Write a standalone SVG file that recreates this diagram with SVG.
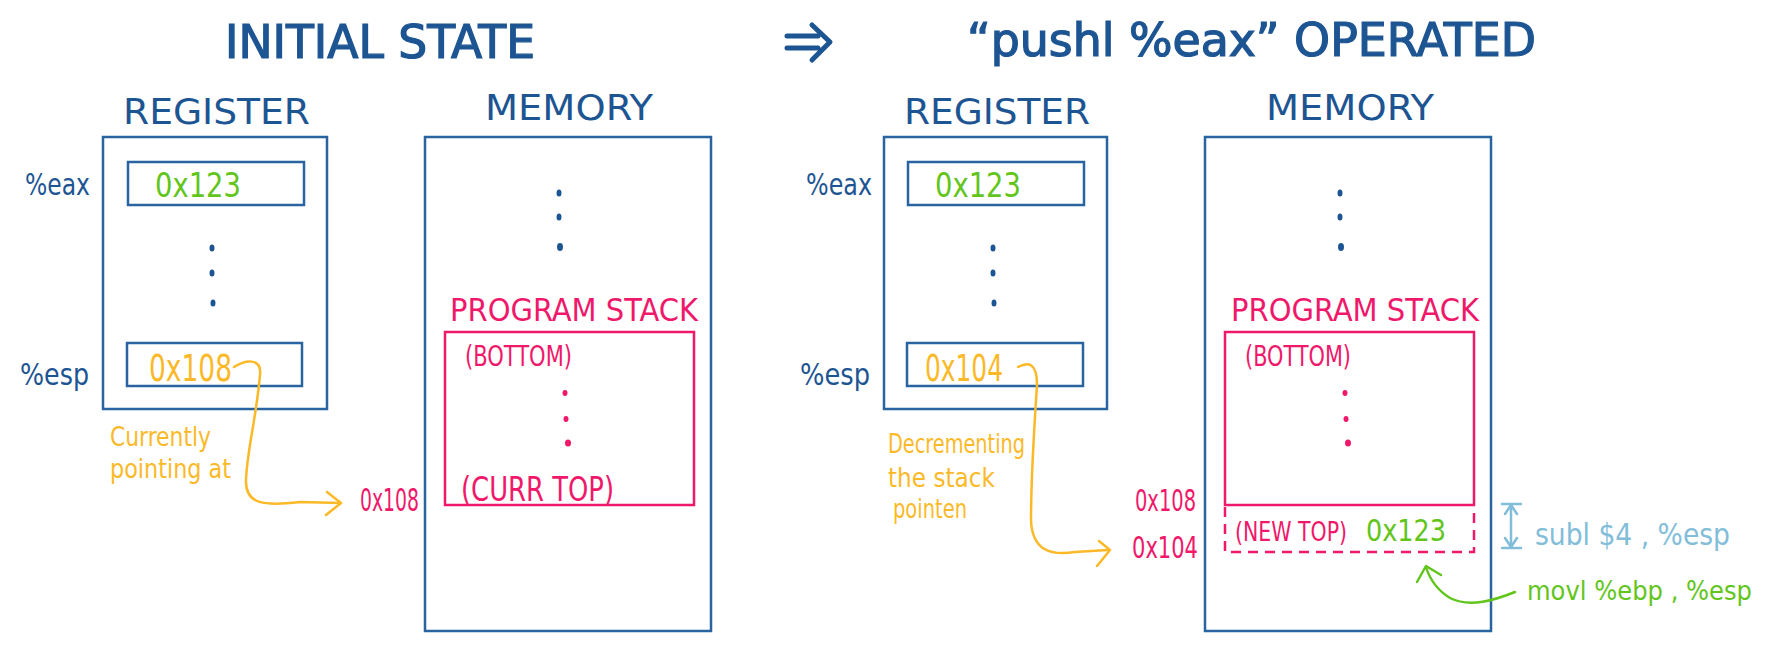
<svg xmlns="http://www.w3.org/2000/svg" width="1766" height="653" viewBox="0 0 1766 653">
<style>
text{font-family:"DejaVu Sans Condensed","Liberation Sans",Arial,sans-serif;}
.t{fill:#1d5593;stroke:#1d5593;stroke-width:1.2;font-size:46px;}
.h{fill:#1d5593;font-size:36px;}
.reg{fill:#1d5593;font-size:30px;}
.g{fill:#62c51c;}
.o{fill:#fbb928;}
.p{fill:#f0186a;}
.lb{fill:#82bdd9;}
.box{fill:none;stroke:#2a64a0;stroke-width:2.5;}
.sbox{fill:none;stroke:#f0186a;stroke-width:2.5;}
.dot{fill:#1d5593;}
.pdot{fill:#f0186a;}
.co{fill:none;stroke:#fbb928;stroke-width:2.5;stroke-linecap:round;stroke-linejoin:round;}
.cg{fill:none;stroke:#62c51c;stroke-width:2.5;stroke-linecap:round;stroke-linejoin:round;}
.cb{fill:none;stroke:#82bdd9;stroke-width:2.5;stroke-linecap:round;stroke-linejoin:round;}
.arr{fill:none;stroke:#1d5593;stroke-width:5;stroke-linecap:round;stroke-linejoin:round;}
</style>

<g id="titles">
<text class="t" x="225" y="58" textLength="310" lengthAdjust="spacingAndGlyphs">INITIAL STATE</text>
<text class="t" x="967" y="56" textLength="569" lengthAdjust="spacingAndGlyphs">“pushl  %eax” OPERATED</text>
</g>
<g id="transition-arrow">
<path class="arr" d="M787 36 H818 M787 48 H818 M812 25 L830 42 L812 60"/>
</g>

<!-- LEFT: INITIAL STATE -->
<g id="left-register">
<text class="h" x="123" y="124" textLength="187" lengthAdjust="spacingAndGlyphs">REGISTER</text>
<rect class="box" x="103" y="137" width="224" height="272"/>
<ellipse class="dot" cx="212" cy="248" rx="2.5" ry="3.5"/>
<ellipse class="dot" cx="212" cy="273" rx="2.5" ry="3.5"/>
<ellipse class="dot" cx="213" cy="303" rx="2.5" ry="3.5"/>
</g>
<g id="left-eax">
<text class="reg" x="25" y="195" textLength="65" lengthAdjust="spacingAndGlyphs">%eax</text>
<rect class="box" x="128" y="162" width="176" height="43"/>
<text class="g" x="155" y="197" font-size="34" textLength="86" lengthAdjust="spacingAndGlyphs">0x123</text>
</g>
<g id="left-esp">
<text class="reg" x="20" y="385" textLength="69" lengthAdjust="spacingAndGlyphs">%esp</text>
<rect class="box" x="127" y="343" width="175" height="43"/>
<text class="o" x="149" y="381" font-size="38" textLength="83" lengthAdjust="spacingAndGlyphs">0x108</text>
</g>
<g id="left-note">
<text class="o" x="110" y="446" font-size="26" textLength="101" lengthAdjust="spacingAndGlyphs">Currently</text>
<text class="o" x="110" y="478" font-size="26" textLength="121" lengthAdjust="spacingAndGlyphs">pointing at</text>
</g>
<g id="left-memory">
<text class="h" x="485" y="120" textLength="168" lengthAdjust="spacingAndGlyphs">MEMORY</text>
<rect class="box" x="425" y="137" width="286" height="494"/>
<ellipse class="dot" cx="559" cy="193" rx="2.5" ry="3.5"/>
<ellipse class="dot" cx="559" cy="217" rx="2.5" ry="3.5"/>
<ellipse class="dot" cx="560" cy="247" rx="3" ry="4"/>
</g>
<g id="left-stack">
<text class="p" x="450" y="321" font-size="32" textLength="248" lengthAdjust="spacingAndGlyphs">PROGRAM STACK</text>
<rect class="sbox" x="445" y="332" width="249" height="173"/>
<text class="p" x="465" y="366" font-size="28" textLength="107" lengthAdjust="spacingAndGlyphs">(BOTTOM)</text>
<ellipse class="pdot" cx="565" cy="393" rx="2.5" ry="3"/>
<ellipse class="pdot" cx="566" cy="419" rx="2.5" ry="3"/>
<ellipse class="pdot" cx="568" cy="443" rx="3" ry="3.5"/>
<text class="p" x="461" y="501" font-size="34" textLength="153" lengthAdjust="spacingAndGlyphs">(CURR TOP)</text>
</g>
<g id="left-addr">
<text class="p" x="360" y="511" font-size="32" textLength="59" lengthAdjust="spacingAndGlyphs">0x108</text>
</g>

<!-- RIGHT: AFTER PUSHL -->
<g id="right-register">
<text class="h" x="904" y="124" textLength="186" lengthAdjust="spacingAndGlyphs">REGISTER</text>
<rect class="box" x="884" y="137" width="223" height="272"/>
<ellipse class="dot" cx="993" cy="248" rx="2.5" ry="3.5"/>
<ellipse class="dot" cx="993" cy="273" rx="2.5" ry="3.5"/>
<ellipse class="dot" cx="994" cy="303" rx="2.5" ry="3.5"/>
</g>
<g id="right-eax">
<text class="reg" x="806" y="195" textLength="66" lengthAdjust="spacingAndGlyphs">%eax</text>
<rect class="box" x="908" y="162" width="176" height="43"/>
<text class="g" x="935" y="197" font-size="34" textLength="86" lengthAdjust="spacingAndGlyphs">0x123</text>
</g>
<g id="right-esp">
<text class="reg" x="800" y="385" textLength="70" lengthAdjust="spacingAndGlyphs">%esp</text>
<rect class="box" x="907" y="343" width="176" height="43"/>
<text class="o" x="925" y="381" font-size="38" textLength="78" lengthAdjust="spacingAndGlyphs">0x104</text>
</g>
<g id="right-note">
<text class="o" x="888" y="453" font-size="26" textLength="137" lengthAdjust="spacingAndGlyphs">Decrementing</text>
<text class="o" x="888" y="487" font-size="26" textLength="107" lengthAdjust="spacingAndGlyphs">the stack</text>
<text class="o" x="893" y="518" font-size="26" textLength="74" lengthAdjust="spacingAndGlyphs">pointen</text>
</g>
<g id="right-memory">
<text class="h" x="1266" y="120" textLength="168" lengthAdjust="spacingAndGlyphs">MEMORY</text>
<rect class="box" x="1205" y="137" width="286" height="494"/>
<ellipse class="dot" cx="1340" cy="193" rx="2.5" ry="3.5"/>
<ellipse class="dot" cx="1340" cy="217" rx="2.5" ry="3.5"/>
<ellipse class="dot" cx="1341" cy="247" rx="3" ry="4"/>
</g>
<g id="right-stack">
<text class="p" x="1231" y="321" font-size="32" textLength="248" lengthAdjust="spacingAndGlyphs">PROGRAM STACK</text>
<rect class="sbox" x="1225" y="332" width="249" height="173"/>
<text class="p" x="1245" y="366" font-size="28" textLength="106" lengthAdjust="spacingAndGlyphs">(BOTTOM)</text>
<ellipse class="pdot" cx="1345" cy="393" rx="2.5" ry="3"/>
<ellipse class="pdot" cx="1346" cy="419" rx="2.5" ry="3"/>
<ellipse class="pdot" cx="1348" cy="443" rx="3" ry="3.5"/>
</g>
<g id="right-newtop">
<path class="sbox" stroke-dasharray="10 7" d="M1225 507 V552 H1474 V507"/>
<text class="p" x="1235" y="541" font-size="26" textLength="112" lengthAdjust="spacingAndGlyphs">(NEW TOP)</text>
<text class="g" x="1366" y="541" font-size="30" textLength="80" lengthAdjust="spacingAndGlyphs">0x123</text>
</g>
<g id="right-addr">
<text class="p" x="1135" y="511" font-size="30" textLength="61" lengthAdjust="spacingAndGlyphs">0x108</text>
<text class="p" x="1132" y="558" font-size="30" textLength="66" lengthAdjust="spacingAndGlyphs">0x104</text>
</g>
<g id="right-instr">
<text class="lb" x="1535" y="545" font-size="30" textLength="195" lengthAdjust="spacingAndGlyphs">subl $4 , %esp</text>
<text class="g" x="1527" y="600" font-size="26" textLength="225" lengthAdjust="spacingAndGlyphs">movl %ebp , %esp</text>
</g>

<g id="connectors">
<path class="co" d="M234 367 C245 360 262 357 260 375 C256 420 247 450 246 480 C245 505 265 506 300 502 L340 503"/>
<path class="co" d="M327 492 L341 503 L326 515"/>
<path class="co" d="M1018 367 C1028 362 1037 362 1037 385 C1034 430 1031 480 1031 520 C1032 550 1050 556 1075 552 L1108 550"/>
<path class="co" d="M1099 541 L1110 550 L1097 566"/>
<path class="cb" d="M1511 506 V546 M1502 504 H1521 M1502 548 H1521 M1505 514 L1511 505 L1517 514 M1505 538 L1511 547 L1517 538"/>
<path class="cg" d="M1515 592 C1495 600 1470 608 1450 598 C1437 590 1430 580 1426 567"/>
<path class="cg" d="M1417 582 L1426 566 L1441 575"/>
</g>
</svg>
